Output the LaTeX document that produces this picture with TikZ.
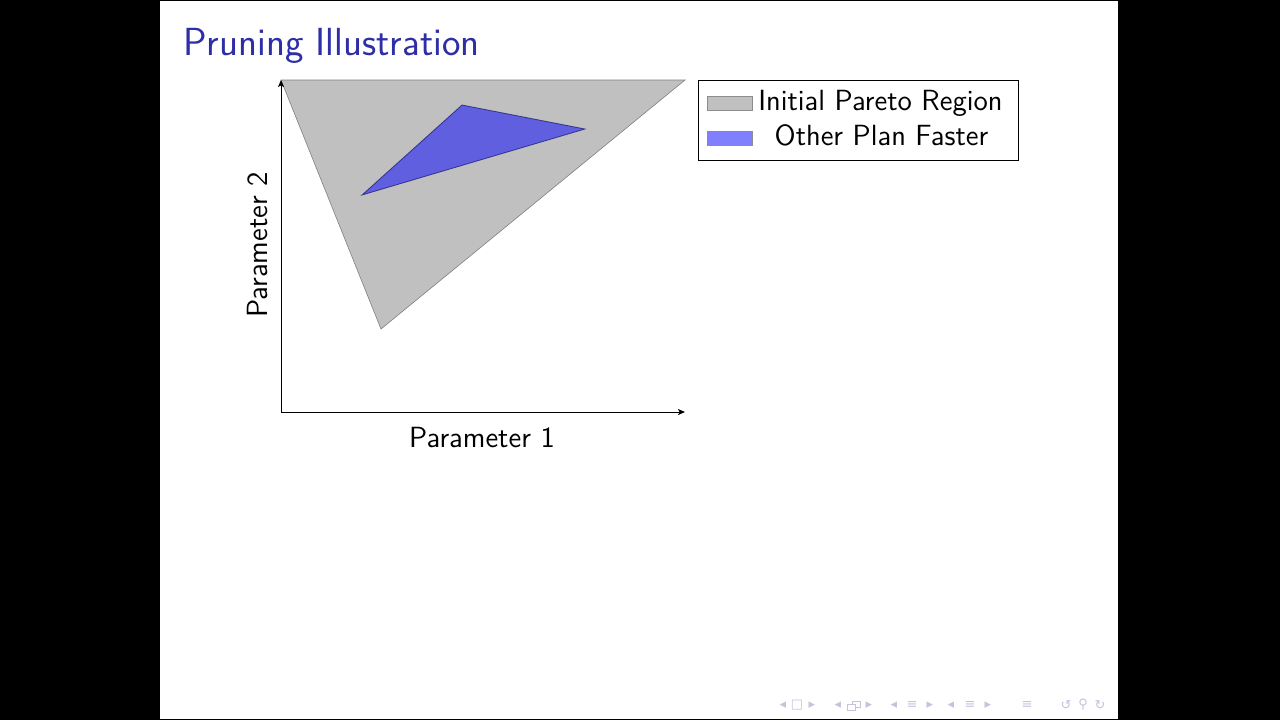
\documentclass[tikz,border=0pt]{standalone}
\usepackage{fontspec}
\newfontfamily\navfont{DejaVu Sans}
\usetikzlibrary{arrows.meta}
\definecolor{titleblue}{HTML}{2E2EA6}
\definecolor{paretogrey}{HTML}{C0C0C0}
\definecolor{navgrey}{HTML}{C4C4DC}
\tikzset{
  >={Stealth[length=3.5pt,width=3pt,inset=0.8pt]},
  font=\sffamily,
  frametitle/.style={text=titleblue,font=\sffamily\fontsize{19.6}{23}\selectfont,inner sep=0pt},
  region/.style={fill=paretogrey,draw=black!50,line width=0.3pt},
  faster/.style={fill=blue,fill opacity=0.5,draw=blue!35!black,draw opacity=0.6,line width=0.4pt},
  axis/.style={->,line width=0.5pt},
  axislabel/.style={font=\sffamily\fontsize{14.6}{17}\selectfont,inner sep=0pt},
  legendbox/.style={draw,line width=0.5pt,minimum width=160pt,minimum height=40pt,inner sep=0pt},
  swatch/.style={minimum width=22.5pt,minimum height=7pt,inner sep=0pt,draw=black!45,line width=0.3pt},
  legendtext/.style={font=\sffamily\fontsize{14.6}{17}\selectfont,inner sep=0pt},
  navsym/.style={text=navgrey,font=\navfont\fontsize{6.5}{7}\selectfont,inner sep=0pt},
  navbox/.style={draw=navgrey,fill=white,line width=0.4pt},
}
\begin{document}
\begin{tikzpicture}[x=0.5pt,y=-0.5pt]
  % slide, in the pixel units of the screen grab
  \fill[black] (0,0) rectangle (1280,720);
  \fill[white] (160,1) rectangle (1118,719);
  \useasboundingbox (0,0) rectangle (1280,720);

  \node[frametitle,anchor=base west] (title) at (183,55) {Pruning Illustration};

  % regions
  \path[region] (281,80) coordinate (pa) -- (685,80) coordinate (pb)
    -- (381,329) coordinate (pc) -- cycle;
  \path[faster] (362,195) coordinate (qa) -- (462,105) coordinate (qb)
    -- (585,129) coordinate (qc) -- cycle;

  % axes
  \coordinate (origin) at (281,412);
  \coordinate (xtip) at (685,412);
  \coordinate (ytip) at (281,80);
  \draw[axis] (origin) -- (xtip);
  \draw[axis] (origin) -- (ytip);
  \node[axislabel,anchor=base] (xlabel) at (482,447) {Parameter 1};
  \node[axislabel,anchor=base,rotate=90] (ylabel) at (267,245) {Parameter 2};

  % legend
  \node[legendbox] (legend) at (858,120) {};
  \node[swatch,fill=paretogrey] (swgrey) at (729.5,103) {};
  \node[swatch,fill=blue!50] (swblue) at (729.5,138) {};
  \node[legendtext,anchor=base] (lgrey) at (880.5,110) {Initial Pareto Region};
  \node[legendtext,anchor=base] (lblue) at (881.5,145) {Other Plan Faster};

  % navigation symbols
  \foreach \x [count=\i] in {783,838,894,951}
    \node[navsym] (navl\i) at (\x,705) {◂};
  \foreach \x [count=\i] in {812,869,930,988}
    \node[navsym] (navr\i) at (\x,705) {▸};
  \foreach \x [count=\i] in {912,970,1027}
    \node[navsym] (navs\i) at (\x,705) {≡};
  \node[navsym] (navframe) at (797,705) {□};
  \draw[navbox] (852,701) rectangle (860,707);
  \draw[navbox] (847,704) rectangle (855,710);
  \node[navsym] (navback) at (1066,705) {↺};
  \node[navsym] (navfind) at (1083,705) {⚲};
  \node[navsym] (navfwd) at (1100,705) {↻};
\end{tikzpicture}
\end{document}
